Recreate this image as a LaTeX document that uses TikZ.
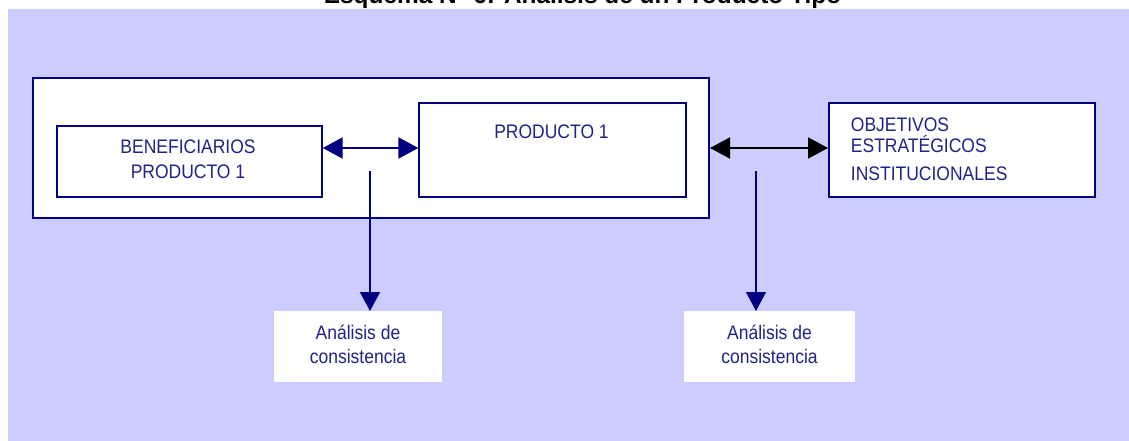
\documentclass[tikz,border=0pt]{standalone}
\usepackage{fontspec}
\setmainfont{Liberation Sans}
\usetikzlibrary{arrows.meta}
\definecolor{lavender}{RGB}{204,204,255}
\definecolor{boxblue}{RGB}{0,0,128}
\definecolor{textblue}{RGB}{34,34,140}
% slightly tall lettering for the box labels
\newcommand{\tallword}[1]{\scalebox{1}[1.12]{#1}}
\begin{document}
\begin{tikzpicture}[x=1pt,y=-1pt,
  box/.style={draw=boxblue, line width=2pt, fill=white, inner sep=0pt, anchor=north west},
  panel/.style={fill=white, inner sep=0pt, anchor=north west},
  txt/.style={text=textblue, font=\fontsize{17.5}{21}\selectfont, inner sep=0pt},
  link/.style={line width=2pt, {Triangle[length=20pt,width=21pt]}-{Triangle[length=20pt,width=21pt]}},
  drop/.style={draw=boxblue, line width=1.5pt, -{Triangle[length=19pt,width=20pt]}}
]
\useasboundingbox (0,0) rectangle (1129,441);
% background panel
\fill[lavender] (8,9) rectangle (1129,441);
% heading
\node[font=\bfseries\fontsize{24.4}{28}\selectfont, anchor=base, inner sep=0pt] (title) at (582.5,4) {Esquema N° 6: Análisis de un Producto Tipo};

% boxes
\node[box, minimum width=676pt, minimum height=140pt] (outer) at (32,77) {};
\node[box, minimum width=264.7pt, minimum height=70.7pt] (benef) at (56,125) {};
\node[box, minimum width=266.7pt, minimum height=94pt] (prod) at (418.3,101.7) {};
\node[box, minimum width=266pt, minimum height=94pt] (obj) at (828,101.7) {};
\node[panel, minimum width=168pt, minimum height=71pt] (ana1) at (274,311) {};
\node[panel, minimum width=171pt, minimum height=71pt] (ana2) at (684,311) {};

% texts
\node[txt, anchor=base] (benefa) at (188,153.3) {\tallword{BENEFICIARIOS}};
\node[txt, anchor=base] (benefb) at (188,178.3) {\tallword{PRODUCTO 1}};
\node[txt, anchor=base] (prodt) at (551.5,138.3) {\tallword{PRODUCTO 1}};
\node[txt, anchor=base west] (obja) at (850.7,131.7) {\tallword{OBJETIVOS}};
\node[txt, anchor=base west] (objb) at (850.7,153) {\tallword{ESTRATÉGICOS}};
\node[txt, anchor=base west] (objc) at (850.7,180) {\tallword{INSTITUCIONALES}};
\node[txt, anchor=base] (ana1a) at (358,339.3) {\tallword{Análisis de}};
\node[txt, anchor=base] (ana1b) at (358,363.3) {\tallword{consistencia}};
\node[txt, anchor=base] (ana2a) at (769.5,339.3) {\tallword{Análisis de}};
\node[txt, anchor=base] (ana2b) at (769.5,363.3) {\tallword{consistencia}};

% connectors
\coordinate (row) at (0,148);
\draw[link, boxblue] (benef.east |- row) -- (prod.west |- row);
\draw[link, black] (outer.east |- row) -- (obj.west |- row);
\coordinate (d1) at (370,171);
\coordinate (d2) at (756,171);
\draw[drop] (d1) -- (d1 |- ana1.north);
\draw[drop] (d2) -- (d2 |- ana2.north);
\end{tikzpicture}
\end{document}
